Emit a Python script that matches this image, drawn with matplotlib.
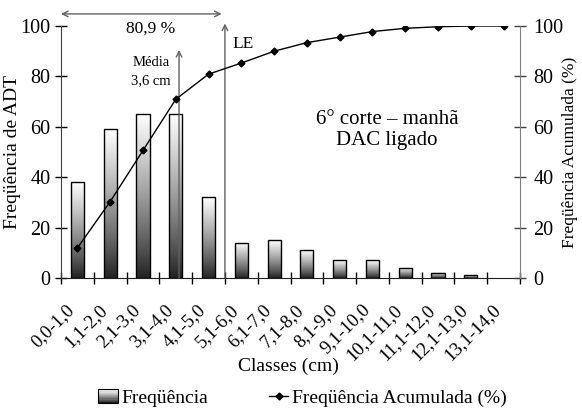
import numpy as np
import matplotlib
matplotlib.use("Agg")
import matplotlib.pyplot as plt
from matplotlib.patches import Rectangle
from matplotlib.lines import Line2D
from matplotlib.legend_handler import HandlerBase
import matplotlib.transforms as mtransforms

plt.rcParams['font.family'] = ['Liberation Serif', 'DejaVu Serif']

classes = ["0,0-1,0", "1,1-2,0", "2,1-3,0", "3,1-4,0", "4,1-5,0", "5,1-6,0",
           "6,1-7,0", "7,1-8,0", "8,1-9,0", "9,1-10,0", "10,1-11,0",
           "11,1-12,0", "12,1-13,0", "13,1-14,0"]
frequencia = [38, 59, 65, 65, 32, 14, 15, 11, 7, 7, 4, 2, 1, 0]
acumulada = [11.9, 30.3, 50.6, 70.9, 80.9, 85.3, 90.0, 93.4, 95.6, 97.8,
             99.1, 99.7, 100.0, 100.0]
media_cm = 3.6
le_cm = 5.0
pct_le = "80,9 %"

fig = plt.figure(figsize=(5.82, 4.13), dpi=100)
ax = fig.add_axes([0.1048, 0.327, 0.7887, 0.61])

x = np.arange(len(classes)) + 0.5
bar_w = 0.4

# gray ramp: dark at the base, white at the top
ramp = (np.linspace(0.08, 1.0, 256) ** 0.8)[:, None]

bars = ax.bar(x, frequencia, width=bar_w, facecolor='none',
              edgecolor='black', linewidth=1.0, zorder=3)
for b in bars:
    h = b.get_height()
    if h <= 0:
        b.set_linewidth(0)
        continue
    x0 = b.get_x()
    ax.imshow(ramp, cmap='gray', vmin=0, vmax=1, aspect='auto',
              origin='lower', extent=[x0, x0 + bar_w, 0, h],
              interpolation='bilinear', zorder=2)

ax.set_xlim(0, 14)
ax.set_ylim(0, 100)
ax.set_yticks(np.arange(0, 101, 20))

ax.set_xticks(np.arange(0, 15))
ax.set_xticklabels([])
ax.set_xticks(x, minor=True)
ax.set_xticklabels(classes, minor=True, rotation=45, ha='right',
                   va='center', rotation_mode='anchor', fontsize=13.5)
ax.tick_params(axis='x', which='minor', length=0, pad=21)
ax.tick_params(axis='x', which='major', direction='inout', length=9, width=1)
ax.tick_params(axis='y', direction='inout', length=9, width=1,
               labelsize=14.5, pad=3)
off = mtransforms.ScaledTranslation(-4 / 72, 0, fig.dpi_scale_trans)
for lab in ax.get_xticklabels(minor=True):
    lab.set_transform(lab.get_transform() + off)

for s in ['top', 'right']:
    ax.spines[s].set_visible(False)
ax.spines['left'].set_color('#404040')
ax.spines['bottom'].set_color('#202020')

ax.set_ylabel("Freqüência de ADT", fontsize=14)
ax.yaxis.set_label_coords(-0.087, 0.5)
ax.set_xlabel("Classes (cm)", fontsize=14)
ax.xaxis.set_label_coords(0.495, -0.318)
ax.patch.set_visible(False)

ax2 = ax.twinx()
ax2.set_ylim(0, 100)
ax2.set_yticks(np.arange(0, 101, 20))
ax2.tick_params(axis='y', direction='inout', length=9, width=1,
                labelsize=14.5, pad=5, color='#404040', labelcolor='black')
ax2.spines['right'].set_color('#808080')
for s in ['top', 'left', 'bottom']:
    ax2.spines[s].set_visible(False)
ax2.set_ylabel("Freqüência Acumulada (%)", fontsize=12.5)
ax2.yaxis.set_label_coords(1.091, 0.5)
ax2.plot(x, acumulada, color='black', linewidth=1.0, marker='D',
         markersize=3.5, zorder=5)

# reference arrows
arrow_gray = '#606060'
ax.annotate("", xy=(le_cm, 101), xytext=(le_cm, 0),
            arrowprops=dict(arrowstyle='->', color=arrow_gray, lw=1.0,
                            shrinkA=0, shrinkB=0), annotation_clip=False, zorder=4)
ax.annotate("", xy=(media_cm, 90.5), xytext=(media_cm, 0),
            arrowprops=dict(arrowstyle='->', color=arrow_gray, lw=1.0,
                            shrinkA=0, shrinkB=0), annotation_clip=False, zorder=4)
ax.annotate("", xy=(0, 104.8), xytext=(4.9, 104.8),
            arrowprops=dict(arrowstyle='<->', color=arrow_gray, lw=1.0,
                            shrinkA=0, shrinkB=0), annotation_clip=False)
ax.text(2.72, 99, pct_le, ha='center', va='center', fontsize=12.5)
ax.text(5.55, 93, "LE", ha='center', va='center', fontsize=12.5)
ax.text(2.75, 82, "Média\n3,6 cm", ha='center', va='center', fontsize=10.5,
        linespacing=1.5)
ax.text(9.95, 58.7, "6° corte – manhã\nDAC ligado", ha='center',
        va='center', fontsize=15, linespacing=1.2)


class GradientHandler(HandlerBase):
    def create_artists(self, legend, orig_handle, xdescent, ydescent,
                       width, height, fontsize, trans):
        w = width
        x0 = -xdescent
        h = height * 1.05
        y0 = -ydescent + (height - h) / 2
        arts = []
        n = 12
        for i in range(n):
            v = 0.1 + 0.9 * (i / (n - 1)) ** 0.8
            arts.append(Rectangle((x0, y0 + h * i / n), w, h / n,
                                  facecolor=(v, v, v), edgecolor='none',
                                  transform=trans))
        arts.append(Rectangle((x0, y0), w, h, facecolor='none',
                              edgecolor='black', lw=0.8, transform=trans))
        return arts


bar_handle = Rectangle((0, 0), 1, 1)
line_handle = Line2D([], [], color='black', lw=1.0, marker='D', markersize=3.5)
fig.legend([bar_handle, line_handle],
           ["Freqüência", "Freqüência Acumulada (%)"],
           handler_map={Rectangle: GradientHandler()},
           loc='center', bbox_to_anchor=(0.52, 0.036), ncol=2, frameon=False,
           fontsize=14, handlelength=1.0, handletextpad=0.2,
           columnspacing=3.1, borderpad=0.1)

fig.savefig("out.png", dpi=100)
